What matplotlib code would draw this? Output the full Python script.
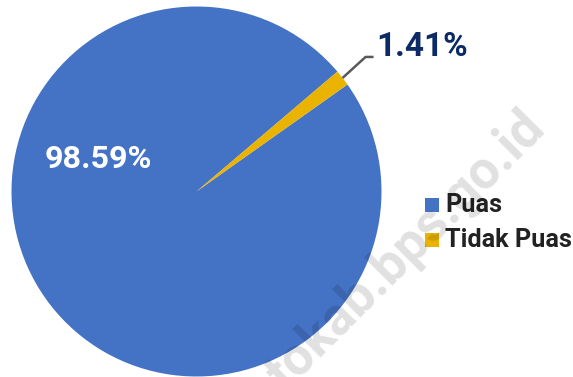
import numpy as np
import matplotlib.pyplot as plt

plt.rcParams['font.family'] = ['Roboto', 'DejaVu Sans']

categories = ['Puas', 'Tidak Puas']
shares = [98.59, 1.41]
colors = ['#4472C4', '#E9B300']

W, H = 573, 377
fig = plt.figure(figsize=(W / 100, H / 100), dpi=100)
ax = fig.add_axes([0, 0, 1, 1])

cx, cy, r = 196.5, 185.5, 185
start = 40.4

wedges, _ = ax.pie(shares, colors=colors, startangle=start, counterclock=True,
                   center=(cx, cy), radius=r,
                   wedgeprops=dict(linewidth=0))

ax.set_xlim(0, W)
ax.set_ylim(0, H)
ax.set_aspect('equal')
ax.axis('off')

# label inside the big slice
ax.text(98, H - 159, f'{shares[0]:.2f}%', color='white', fontsize=23.3,
        fontweight='bold', ha='center', va='center')

# leader line + label for the thin slice
w = wedges[1]
mid = np.deg2rad((w.theta1 + w.theta2) / 2)
ax0 = cx + r * np.cos(mid)
ay0 = cy + r * np.sin(mid)
ex, ey = ax0 + 23, ay0 + 21
ax.plot([ax0, ex, ex + 8], [ay0, ey, ey], color='#595959', lw=1.8,
        solid_capstyle='butt')
ax.text(ex + 11, ey + 10, f'{shares[1]:.2f}%', color='#0B2A66', fontsize=24,
        fontweight='bold', ha='left', va='center')

# legend
for i, (lab, col) in enumerate(zip(categories, colors)):
    yy = H - 205 - i * 35
    ax.add_patch(plt.Rectangle((425, yy - 7), 14, 14, color=col, lw=0))
    ax.text(445, yy, lab, color='#222222', fontsize=18.2, fontweight='bold',
            ha='left', va='center')

# site watermark
ax.text(537, H - 120, 'tokab.bps.go.id', rotation=45, rotation_mode='anchor',
        ha='right', va='center', fontsize=38, fontweight='bold',
        color='black', alpha=0.12)

fig.savefig('out.png', dpi=100)
